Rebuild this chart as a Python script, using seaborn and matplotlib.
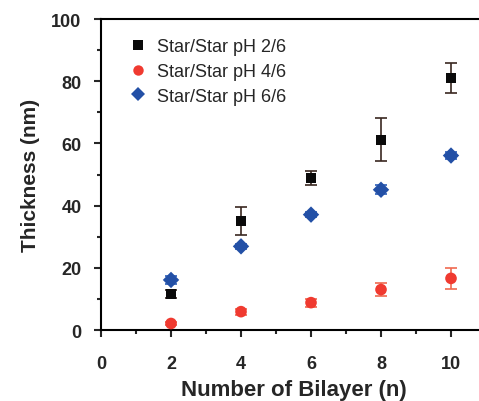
import numpy as np
import pandas as pd
import matplotlib
matplotlib.use("Agg")
import matplotlib.pyplot as plt
import seaborn as sns
from matplotlib.ticker import MultipleLocator

layers = [2, 4, 6, 8, 10]
series_names = ["Star/Star pH 2/6", "Star/Star pH 4/6", "Star/Star pH 6/6"]
thick_26 = [11.6, 35.0, 48.9, 61.2, 81.0]
err_26 = [1.2, 4.6, 2.3, 7.0, 4.7]
thick_46 = [2.1, 5.9, 8.8, 13.0, 16.6]
err_46 = [0.5, 1.0, 1.3, 2.0, 3.3]
thick_66 = [16.1, 26.9, 37.1, 45.1, 56.1]
err_66 = [1.3, 0.8, 0.8, 1.5, 1.2]
x_ticks = [0, 2, 4, 6, 8, 10]
y_ticks = [0, 20, 40, 60, 80, 100]

sns.set_style("ticks")
plt.rcParams['font.family'] = ['Liberation Sans', 'DejaVu Sans']

df = pd.DataFrame({
    "layer": layers * 3,
    "thickness": thick_26 + thick_46 + thick_66,
    "err": err_26 + err_46 + err_66,
    "series": [series_names[0]] * 5 + [series_names[1]] * 5 + [series_names[2]] * 5,
})

colors = {series_names[0]: "#0a0a0a", series_names[1]: "#f03a30", series_names[2]: "#2350a6"}
ecolors = {series_names[0]: "#3a2820", series_names[1]: "#f06a50", series_names[2]: "#2a5cb8"}
markers = {series_names[0]: "s", series_names[1]: "o", series_names[2]: "D"}
areas = {series_names[0]: 55, series_names[1]: 70, series_names[2]: 70}
sizes = {series_names[0]: 7, series_names[1]: 7.5, series_names[2]: 7}

fig = plt.figure(figsize=(4.79, 4.02), dpi=100)
ax = fig.add_axes([0.2109, 0.1766, 0.7891, 0.7736])

for name in series_names:
    sub = df[df.series == name]
    ax.errorbar(sub.layer, sub.thickness, yerr=sub.err, fmt="none",
                ecolor=ecolors[name], elinewidth=1.2, capsize=4, capthick=1.2, zorder=2)

sns.scatterplot(data=df, x="layer", y="thickness", hue="series", style="series",
                size="series", sizes=areas,
                palette=colors, markers=markers, edgecolor="none",
                ax=ax, zorder=3, legend=False)

handles = [plt.Line2D([], [], linestyle="none", marker=markers[n], color=colors[n],
                      markersize=sizes[n], markeredgewidth=0) for n in series_names]
ax.legend(handles, series_names, loc="upper left", bbox_to_anchor=(0.025, 0.99),
          frameon=False, fontsize=13, handletextpad=0.5, labelspacing=0.42,
          borderaxespad=0.5, handlelength=1.2)

ax.set_xlim(0, 10.8)
ax.set_ylim(0, 100)
ax.set_xticks(x_ticks)
ax.set_yticks(y_ticks)
ax.xaxis.set_minor_locator(MultipleLocator(1))
ax.yaxis.set_minor_locator(MultipleLocator(10))
ax.tick_params(axis="y", which="major", direction="out", length=5, width=1.5, pad=9,
               labelsize=13)
ax.tick_params(axis="x", which="major", direction="out", length=5, width=1.5, pad=13,
               labelsize=13)
ax.tick_params(which="minor", direction="out", length=3, width=1.5)
for lab in ax.get_xticklabels() + ax.get_yticklabels():
    lab.set_fontweight("bold")

for side in ["left", "bottom", "top"]:
    ax.spines[side].set_linewidth(1.5)
    ax.spines[side].set_color("black")
ax.spines["right"].set_visible(False)

ax.set_xlabel("Number of Bilayer (n)", fontsize=16, fontweight="bold")
ax.xaxis.set_label_coords(0.51, -0.158)
ax.set_ylabel("Thickness (nm)", fontsize=15, fontweight="bold", labelpad=8)

fig.savefig("out.png", dpi=100)
